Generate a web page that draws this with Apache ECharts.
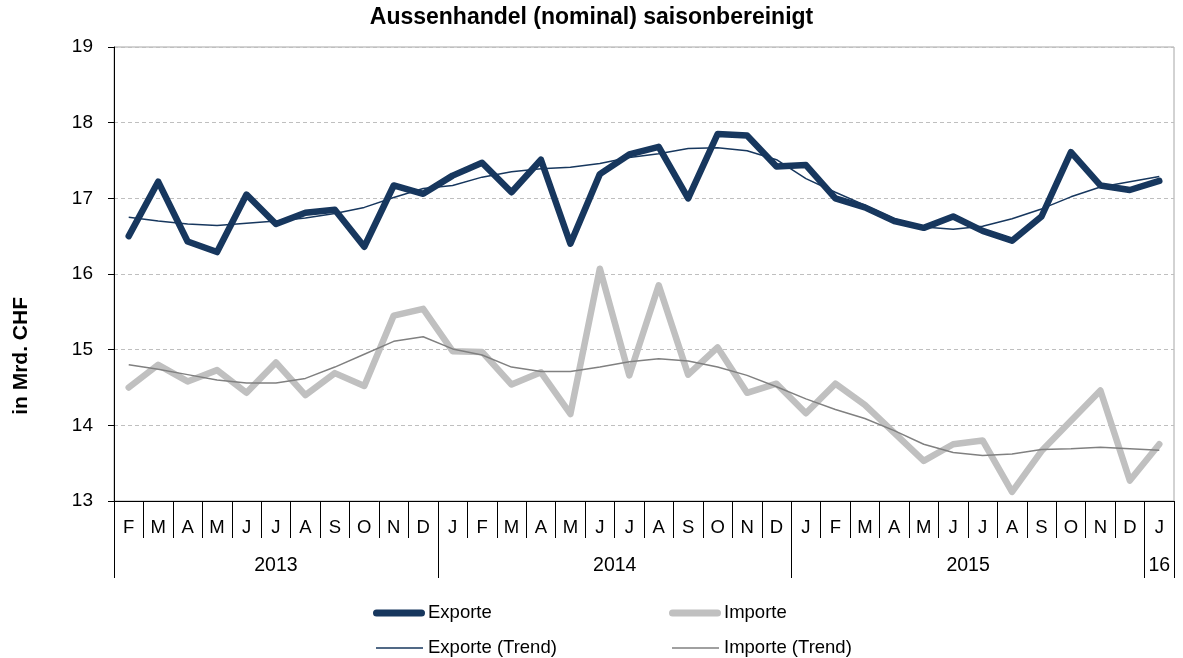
<!DOCTYPE html>
<html>
<head>
<meta charset="utf-8">
<script src="https://cdn.jsdelivr.net/npm/echarts@6/dist/echarts.min.js"></script>
<style>
  html, body { margin: 0; padding: 0; background: #fff; }
  #chart { width: 1183px; height: 658px; }
</style>
</head>
<body>
<div id="chart"></div>
<script>
const months = ['F','M','A','M','J','J','A','S','O','N','D',
  'J','F','M','A','M','J','J','A','S','O','N','D',
  'J','F','M','A','M','J','J','A','S','O','N','D',
  'J'];
const yearLabels = { 5: '2013', 17: '2014', 29: '2015', 35: '16' };
const yearShifted = [17, 29];
const yearDividers = [0, 11, 23, 35];
const yTicks = [13, 14, 15, 16, 17, 18, 19];

const exporte = [16.50,17.22,16.43,16.29,17.05,16.66,16.81,16.85,16.36,17.17,17.06,
  17.30,17.47,17.08,17.51,16.40,17.32,17.58,17.68,17.00,17.85,17.83,17.42,
  17.44,17.00,16.88,16.70,16.61,16.76,16.57,16.44,16.76,17.61,17.17,17.11,
  17.23];
const importe = [14.50,14.80,14.58,14.73,14.43,14.83,14.40,14.69,14.52,15.45,15.54,
  14.98,14.97,14.54,14.70,14.15,16.07,14.66,15.85,14.67,15.03,14.43,14.55,
  14.16,14.55,14.27,13.90,13.53,13.75,13.80,13.12,13.66,14.06,14.46,13.27,
  13.75];
const exporteTrend = [16.75,16.70,16.66,16.64,16.67,16.70,16.74,16.80,16.88,17.01,17.13,
  17.17,17.28,17.35,17.39,17.41,17.46,17.54,17.59,17.66,17.67,17.63,17.51,
  17.26,17.08,16.91,16.73,16.62,16.59,16.63,16.73,16.86,17.02,17.15,17.22,
  17.29];
const importeTrend = [14.80,14.74,14.67,14.60,14.56,14.56,14.62,14.77,14.94,15.11,15.17,
  15.01,14.93,14.77,14.71,14.71,14.77,14.84,14.88,14.85,14.77,14.66,14.51,
  14.35,14.21,14.09,13.93,13.75,13.64,13.60,13.62,13.68,13.69,13.71,13.69,
  13.67];

const FONT = 'Liberation Sans, Arial, sans-serif';
const C_EXP = '#17375E';
const C_IMP = '#C0C0C0';
const C_IMP_T = '#808080';
const capsule = 'path://M3.5,0 L48.5,0 A3.5,3.5 0 0 1 48.5,7 L3.5,7 A3.5,3.5 0 0 1 3.5,0 Z';

function legendItem(name, left, top, icon, w, h, color, pad) {
  return {
    data: [name], left: left, top: top, padding: 0,
    icon: icon, itemWidth: w, itemHeight: h, itemGap: 0,
    selectedMode: false,
    itemStyle: { color: color },
    textStyle: { fontFamily: FONT, fontSize: 18.5, color: '#000', lineHeight: 20, padding: [0, 0, 0, pad] }
  };
}

const chart = echarts.init(document.getElementById('chart'), null, { renderer: 'canvas' });
chart.setOption({
  animation: false,
  backgroundColor: '#fff',
  title: {
    text: 'Aussenhandel (nominal) saisonbereinigt',
    left: 'center', top: 6, padding: 0,
    textStyle: { fontFamily: FONT, fontSize: 23, fontWeight: 'bold', color: '#000' }
  },
  graphic: [{
    type: 'text', left: 11, top: 297, rotation: Math.PI / 2,
    style: { text: 'in Mrd. CHF', font: 'bold 21px ' + FONT, fill: '#000' }
  }],
  legend: [
    legendItem('Exporte', 373, 603, capsule, 52, 7, C_EXP, -2),
    legendItem('Importe', 669, 603, capsule, 52, 7, C_IMP, -2),
    legendItem('Exporte (Trend)', 376, 638, 'rect', 47, 1.5, C_EXP, 0),
    legendItem('Importe (Trend)', 672, 638, 'rect', 47, 1.5, C_IMP_T, 0)
  ],
  grid: { left: 114, right: 9, top: 47, bottom: 157, show: true, borderColor: '#A6A6A6', borderWidth: 1 },
  xAxis: [{
    type: 'category', data: months, position: 'bottom', boundaryGap: true,
    axisLine: { show: true, lineStyle: { color: '#000', width: 1 } },
    axisTick: { show: true, interval: 0, length: 37, lineStyle: { color: '#000', width: 1 } },
    axisLabel: { interval: 0, margin: 17, fontFamily: FONT, fontSize: 18.5, color: '#000' },
    splitLine: { show: false }
  }, {
    type: 'category', data: months, position: 'bottom', boundaryGap: true,
    axisLine: { show: false },
    axisTick: { show: true, length: 77, interval: function (i) { return yearDividers.indexOf(i) >= 0; },
      lineStyle: { color: '#000', width: 1 } },
    axisLabel: {
      margin: 55, fontFamily: FONT, fontSize: 19.5, color: '#000',
      interval: function (i) { return yearLabels[i] !== undefined; },
      formatter: function (v, i) {
        if (yearLabels[i] === undefined) return '';
        return yearShifted.indexOf(i) >= 0 ? '{s|' + yearLabels[i] + '}' : yearLabels[i];
      },
      rich: { s: { fontFamily: FONT, fontSize: 19.5, color: '#000', padding: [0, 29, 0, 0] } }
    },
    splitLine: { show: false }
  }],
  yAxis: {
    type: 'value', min: yTicks[0], max: yTicks[yTicks.length - 1], interval: 1,
    axisLine: { show: true, lineStyle: { color: '#000', width: 1 } },
    axisTick: { show: true, length: 6, lineStyle: { color: '#000' } },
    axisLabel: { margin: 21, fontFamily: FONT, fontSize: 19, color: '#000' },
    splitLine: { show: true, lineStyle: { color: '#BFBFBF', type: [4, 3], width: 1 } }
  },
  series: [
    { name: 'Exporte', type: 'line', data: exporte, symbol: 'none', z: 3,
      lineStyle: { color: C_EXP, width: 6.5, cap: 'round', join: 'round' }, itemStyle: { color: C_EXP } },
    { name: 'Importe', type: 'line', data: importe, symbol: 'none', z: 2,
      lineStyle: { color: C_IMP, width: 6.5, cap: 'round', join: 'round' }, itemStyle: { color: C_IMP } },
    { name: 'Exporte (Trend)', type: 'line', data: exporteTrend, symbol: 'none', z: 4,
      lineStyle: { color: C_EXP, width: 1.5 }, itemStyle: { color: C_EXP } },
    { name: 'Importe (Trend)', type: 'line', data: importeTrend, symbol: 'none', z: 4,
      lineStyle: { color: C_IMP_T, width: 1.5 }, itemStyle: { color: C_IMP_T } }
  ]
});
</script>
</body>
</html>
